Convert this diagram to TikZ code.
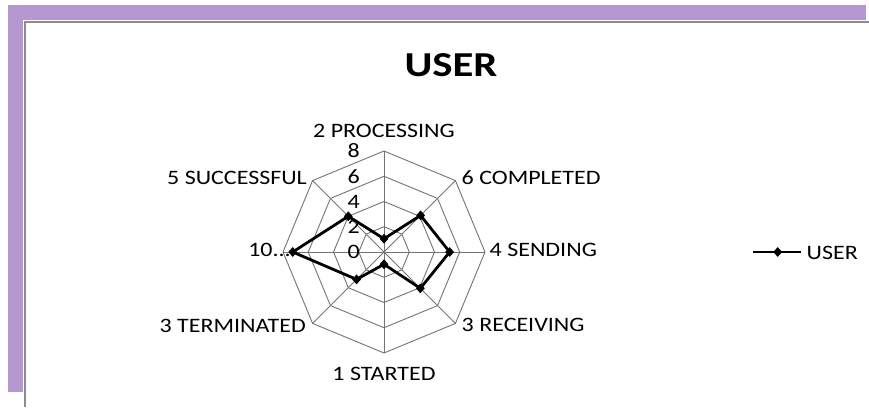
\documentclass[tikz,border=0pt]{standalone}
\usepackage{fontspec}
\setmainfont{Carlito}
\newfontfamily\labelfont[FakeStretch=1.17]{Carlito}
\newfontfamily\titlefont[FakeStretch=1.22]{Carlito Bold}
\usetikzlibrary{shapes.geometric}
\definecolor{band}{RGB}{181,152,207}
\definecolor{framegray}{RGB}{140,140,140}
\definecolor{gridgray}{RGB}{115,115,115}
\begin{document}
\begin{tikzpicture}[x=1pt,y=-1pt,
  gridline/.style={draw=gridgray, line width=0.9pt},
  dataline/.style={draw=black, line width=2.8pt, line join=round},
  marker/.style={diamond, fill=black, inner sep=0pt, minimum width=9pt, minimum height=10pt},
  axislabel/.style={font=\labelfont\fontsize{20.5}{24}\selectfont, inner sep=0pt, text=black},
  ringlabel/.style={font=\labelfont\fontsize{20.5}{24}\selectfont, inner sep=0pt, anchor=east, text=black},
  titlestyle/.style={font=\titlefont\fontsize{35}{40}\selectfont, inner sep=0pt, anchor=base}
]
\useasboundingbox (0,0) rectangle (869,407);
% frame
\fill[band] (8,5) rectangle (866,20);
\fill[band] (8,5) rectangle (23,392);
\draw[framegray, line width=2pt] (25,407) -- (25,22) -- (869,22);
% title
\node[titlestyle] (title) at (451,76.7) {USER};
% chart
\coordinate (c) at (384,252);
\begin{scope}[shift={(c)}, x=1pt, y=1pt]
  \def\u{12.625}
  \foreach \r in {2,4,6,8} {
    \draw[gridline] (90:\r*\u) -- (45:\r*\u) -- (0:\r*\u) -- (-45:\r*\u) -- (-90:\r*\u) -- (-135:\r*\u) -- (180:\r*\u) -- (135:\r*\u) -- cycle;
  }
  \foreach \a in {90,45,0,-45,-90,-135,180,135} {
    \draw[gridline] (0,0) -- (\a:8*\u);
  }
  \foreach \r in {0,2,4,6,8} {
    \node[ringlabel] (ring\r) at (-24,\r*\u) {\r};
  }
  \coordinate (d1) at (90:1.05*\u);
  \coordinate (d2) at (45:4.1*\u);
  \coordinate (d3) at (0:5.2*\u);
  \coordinate (d4) at (-45:4.07*\u);
  \coordinate (d5) at (-90:0.97*\u);
  \coordinate (d6) at (-135:3.07*\u);
  \coordinate (d7) at (180:7.23*\u);
  \coordinate (d8) at (135:4.0*\u);
  \draw[dataline] (d1) -- (d2) -- (d3) -- (d4) -- (d5) -- (d6) -- (d7) -- (d8) -- cycle;
  \foreach \i in {1,...,8} {
    \node[marker] (m\i) at (d\i) {};
  }
\end{scope}
% axis labels
\node[axislabel, anchor=base] (lproc) at (384,137.3) {2 PROCESSING};
\node[axislabel, anchor=base west] (lcomp) at (461.5,184) {6 COMPLETED};
\node[axislabel, anchor=base west] (lsend) at (489.5,256) {4 SENDING};
\node[axislabel, anchor=base west] (lrecv) at (461.5,331.7) {3 RECEIVING};
\node[axislabel, anchor=base] (lstart) at (384,380) {1 STARTED};
\node[axislabel, anchor=base east] (lterm) at (306,332) {3 TERMINATED};
\node[axislabel, anchor=base east] (lten) at (291,256) {10...};
\node[axislabel, anchor=base east] (lsucc) at (307,184) {5 SUCCESSFUL};
% legend
\coordinate (lg1) at (753,252);
\coordinate (lg2) at (800.5,252);
\draw[dataline] (lg1) -- (lg2);
\node[marker] (lgm) at (777.7,252) {};
\node[axislabel, anchor=base west] (lgtext) at (806.5,259) {USER};
\end{tikzpicture}
\end{document}
